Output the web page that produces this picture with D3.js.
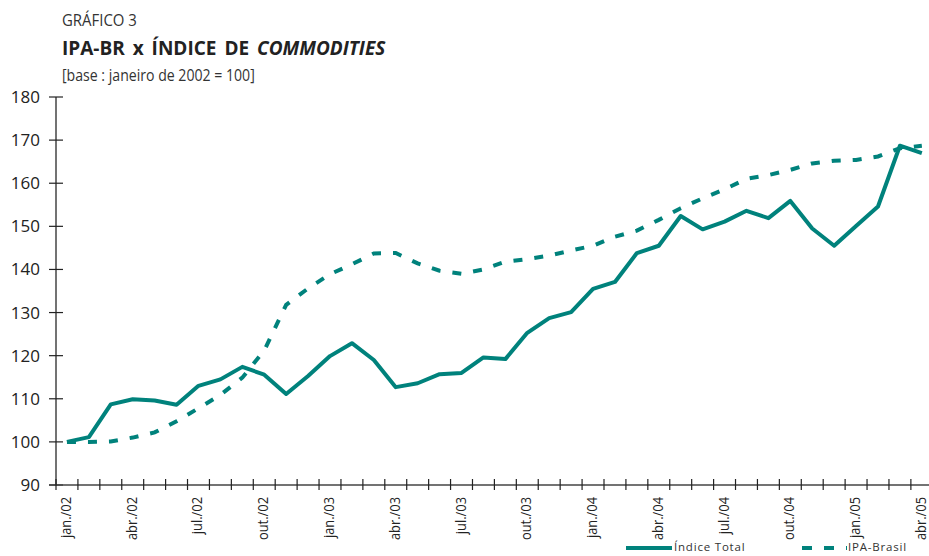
<!DOCTYPE html>
<html><head><meta charset="utf-8">
<script src="https://cdn.jsdelivr.net/npm/d3@7"></script>
<style>
body{margin:0;background:#fff;}
svg{display:block;}
.cond{font-family:"Open Sans",sans-serif;}
</style>
</head><body>
<svg id="c" width="929" height="556"></svg>
<script>
const months = ["jan.","fev.","mar.","abr.","mai.","jun.","jul.","ago.","set.","out.","nov.","dez."];
const years = ["02","03","04","05"];
const categories = [];
years.forEach(y => months.forEach(m => { if (categories.length < 40) categories.push(m + "/" + y); }));
const tickLabels = categories.filter((d,i)=> i % 3 === 0);
const indiceTotal = [100,101.1,108.7,109.9,109.6,108.6,113.0,114.5,117.4,115.6,111.1,115.3,
  119.9,122.9,119.0,112.7,113.6,115.7,116.0,119.6,119.2,125.3,128.7,130.1,
  135.5,137.1,143.8,145.5,152.4,149.3,151.1,153.6,151.9,155.9,149.5,145.5,
  150.1,154.6,168.7,167.0];
const ipaBrasil = [100,100.0,100.1,101.0,102.2,104.8,107.8,110.9,114.9,121.2,131.8,135.6,
  138.9,141.2,143.7,143.8,141.4,139.7,139.0,140.0,141.8,142.4,143.2,144.4,
  145.5,147.6,149.0,151.5,154.2,156.5,158.6,161.0,161.9,163.1,164.6,165.2,
  165.4,166.2,168.1,168.7];
const yTicks = [90,100,110,120,130,140,150,160,170,180];
const color = "#00827c";

const svg = d3.select("#c");
const x = d3.scaleBand().domain(categories).range([56, 56 + 40*21.92]).paddingInner(0).paddingOuter(0);
const y = d3.scaleLinear().domain([90,180]).range([485, 97]);

// Titles
svg.append("text").attr("class","cond").attr("transform","translate(62,26) scale(0.88,1)").attr("font-size",17).attr("fill","#333").text("GRÁFICO 3");
const t = svg.append("text").attr("x",62).attr("y",55).attr("font-family","'Open Sans',sans-serif").attr("font-weight","bold").attr("font-size",19).attr("fill","#222").attr("word-spacing","3");
t.append("tspan").text("IPA-BR x ÍNDICE DE ");
t.append("tspan").attr("font-style","italic").text("COMMODITIES");
svg.append("text").attr("class","cond").attr("transform","translate(62,81) scale(0.83,1)").attr("font-size",17).attr("fill","#333").text("[base : janeiro de 2002 = 100]");

// Y axis
const gy = svg.append("g");
gy.append("line").attr("x1",56).attr("x2",56).attr("y1",y(180)).attr("y2",y(90)).attr("stroke","#444").attr("stroke-width",1.5);
yTicks.forEach(v=>{
  gy.append("line").attr("x1",49).attr("x2",63).attr("y1",y(v)).attr("y2",y(v)).attr("stroke","#222").attr("stroke-width",1.2);
  gy.append("text").attr("x",40).attr("y",y(v)).attr("dy","0.35em").attr("text-anchor","end")
    .attr("font-family","'Open Sans',sans-serif").attr("font-size",17).attr("fill","#222").text(v);
});

// X axis
const gx = svg.append("g");
gx.append("line").attr("x1",49).attr("x2",929).attr("y1",y(90)).attr("y2",y(90)).attr("stroke","#444").attr("stroke-width",1.5);
categories.forEach(c=>{
  const xx = x(c);
  gx.append("line").attr("x1",xx).attr("x2",xx).attr("y1",y(90)-6).attr("y2",y(90)+5).attr("stroke","#222").attr("stroke-width",1.2);
});
tickLabels.forEach(c=>{
  const cx = x(c) + x.bandwidth()/2;
  gx.append("text").attr("class","cond").attr("transform",`translate(${cx+4},497) rotate(-90) scale(0.92,1)`)
    .attr("text-anchor","end").attr("font-size",14).attr("fill","#222").text(c);
});

// Lines
const line = d3.line().x((d,i)=>x(categories[i]) + x.bandwidth()/2).y(d=>y(d));
svg.append("path").datum(ipaBrasil).attr("d",line).attr("fill","none").attr("stroke",color).attr("stroke-width",4).attr("stroke-dasharray","9,12");
svg.append("path").datum(indiceTotal).attr("d",line).attr("fill","none").attr("stroke",color).attr("stroke-width",4).attr("stroke-linejoin","round");

// Legend
svg.append("line").attr("x1",626).attr("x2",672).attr("y1",548).attr("y2",548).attr("stroke",color).attr("stroke-width",4);
svg.append("text").attr("class","cond").attr("x",674).attr("y",551).attr("font-size",11.5).attr("letter-spacing","0.8").attr("fill","#333").text("Índice Total");
svg.append("line").attr("x1",802).attr("x2",847).attr("y1",548).attr("y2",548).attr("stroke",color).attr("stroke-width",4).attr("stroke-dasharray","10,12");
svg.append("text").attr("class","cond").attr("x",848).attr("y",551).attr("font-size",11.5).attr("letter-spacing","0.8").attr("fill","#333").text("IPA-Brasil");
</script>
</body></html>
